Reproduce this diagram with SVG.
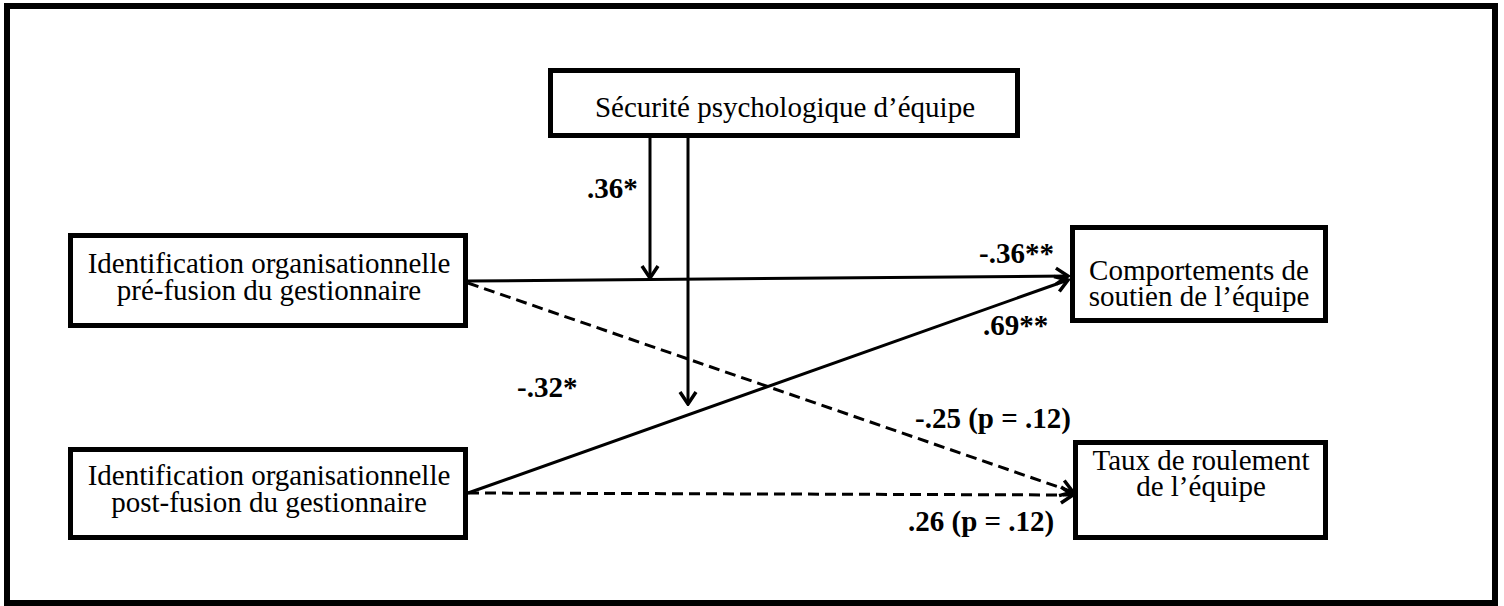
<svg xmlns="http://www.w3.org/2000/svg" width="1504" height="606" viewBox="0 0 1504 606">
<defs>
<style>
.box{fill:#fff;stroke:#000;stroke-width:5}
.t{font-family:"Liberation Serif","Times New Roman",serif;font-size:29px;fill:#000;text-anchor:middle}
.lb{font-family:"Liberation Serif","Times New Roman",serif;font-size:29px;font-weight:bold;fill:#000}
.c{fill:none;stroke:#000;stroke-width:3}
.d{stroke-dasharray:11 6}
</style>
<marker id="ah" viewBox="0 0 16 20" refX="14" refY="10" markerWidth="16" markerHeight="20" markerUnits="userSpaceOnUse" orient="auto">
<path d="M2,2 L14,10 L2,18" fill="none" stroke="#000" stroke-width="3.5"/>
</marker>
</defs>
<rect x="0" y="0" width="1504" height="606" fill="#fff"/>
<rect x="7" y="6" width="1488" height="597" fill="none" stroke="#000" stroke-width="6"/>
<g id="connectors">
<line class="c" x1="650" y1="138" x2="650" y2="278" marker-end="url(#ah)"/>
<line class="c" x1="688" y1="138" x2="688" y2="404" marker-end="url(#ah)"/>
<line class="c" x1="468" y1="281" x2="1068" y2="276" marker-end="url(#ah)"/>
<line class="c" x1="468" y1="493" x2="1068" y2="280" marker-end="url(#ah)"/>
<line class="c d" x1="468" y1="283" x2="1073" y2="492" marker-end="url(#ah)"/>
<line class="c d" x1="468" y1="493" x2="1073" y2="495" marker-end="url(#ah)"/>
</g>
<g id="labels">
<text class="lb" x="587" y="198">.36*</text>
<text class="lb" x="979" y="263">-.36**</text>
<text class="lb" x="983" y="335">.69**</text>
<text class="lb" x="517" y="397">-.32*</text>
<text class="lb" x="915" y="428">-.25 (p = .12)</text>
<text class="lb" x="908" y="531">.26 (p = .12)</text>
</g>
<g id="n-securite">
<rect class="box" x="550.5" y="70.5" width="467" height="65"/>
<text class="t" x="785" y="117">Sécurité psychologique d’équipe</text>
</g>
<g id="n-pre">
<rect class="box" x="70.5" y="235.5" width="395" height="90"/>
<text class="t" x="269" y="273">Identification organisationnelle</text>
<text class="t" x="269" y="300">pré-fusion du gestionnaire</text>
</g>
<g id="n-post">
<rect class="box" x="70.5" y="449.5" width="395" height="88"/>
<text class="t" x="269" y="485">Identification organisationnelle</text>
<text class="t" x="269" y="512">post-fusion du gestionnaire</text>
</g>
<g id="n-comport">
<rect class="box" x="1072.5" y="227.5" width="253" height="93"/>
<text class="t" x="1199" y="280">Comportements de</text>
<text class="t" x="1199" y="306">soutien de l’équipe</text>
</g>
<g id="n-taux">
<rect class="box" x="1075.5" y="442.5" width="250" height="95"/>
<text class="t" x="1201" y="470">Taux de roulement</text>
<text class="t" x="1201" y="496">de l’équipe</text>
</g>
</svg>
